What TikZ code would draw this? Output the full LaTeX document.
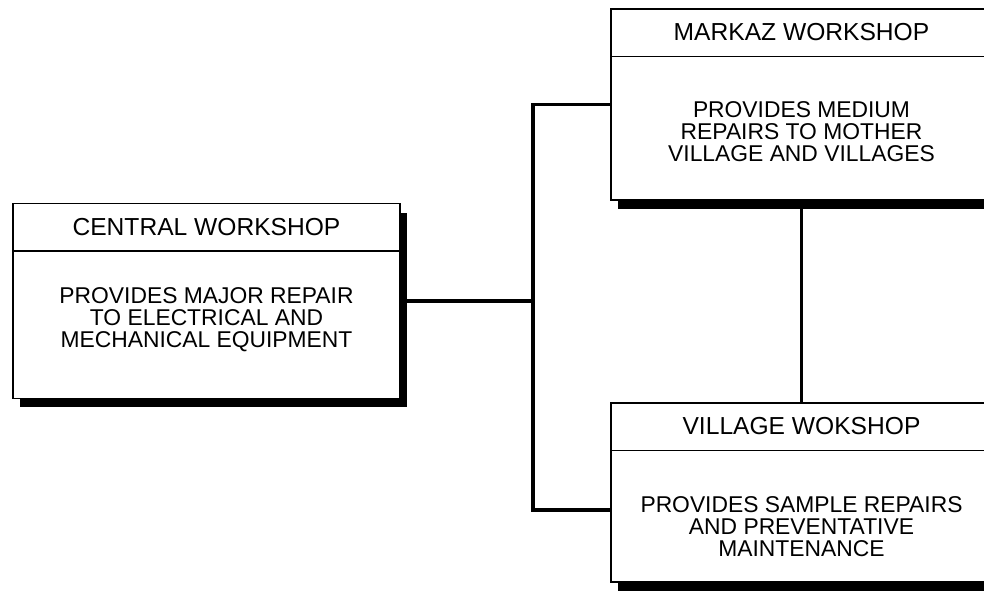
\documentclass[tikz,border=0pt]{standalone}
\usepackage{fontspec}
\setmainfont{Liberation Sans}
\usetikzlibrary{shadows}

\begin{document}
\begin{tikzpicture}[
    x=0.02cm, y=-0.02cm,
    wsbox/.style={draw, line width=0.8pt, fill=white,
        drop shadow={shadow xshift=0.14cm, shadow yshift=-0.18cm, opacity=1, fill=black}},
    headtext/.style={font=\fontsize{14}{16}\selectfont},
    bodytext/.style={font=\fontsize{13}{12.6}\selectfont, align=center},
    link/.style={line width=2.2pt},
]

\clip (0,0) rectangle (984,604);

% Workshops
\node[wsbox, minimum width=7.74cm, minimum height=3.9cm] (central) at (206.5,301) {};
\node[wsbox, minimum width=7.62cm, minimum height=3.82cm] (markaz) at (801.5,104.5) {};
\node[wsbox, minimum width=7.62cm, minimum height=3.58cm] (village) at (801.5,492.5) {};

% Header rules
\foreach \b in {central, markaz, village} {
    \draw[line width=0.8pt] ([yshift=-0.96cm]\b.north west) -- ([yshift=-0.96cm]\b.north east);
}

% Titles
\node[headtext] (centralhead) at ([yshift=-0.48cm]central.north) {CENTRAL WORKSHOP};
\node[headtext] (markazhead) at ([yshift=-0.48cm]markaz.north) {MARKAZ WORKSHOP};
\node[headtext] (villagehead) at ([yshift=-0.48cm]village.north) {VILLAGE WOKSHOP};

% Descriptions
\node[bodytext] (centraltext) at ([yshift=-0.38cm]central.center)
    {PROVIDES MAJOR REPAIR\\TO ELECTRICAL AND\\MECHANICAL EQUIPMENT};
\node[bodytext] (markaztext) at ([yshift=-0.55cm]markaz.center)
    {PROVIDES MEDIUM\\REPAIRS TO MOTHER\\VILLAGE AND VILLAGES};
\node[bodytext] (villagetext) at ([yshift=-0.69cm]village.center)
    {PROVIDES SAMPLE REPAIRS\\AND PREVENTATIVE\\MAINTENANCE};

% Connectors
\coordinate (bus) at (533,0);
\coordinate (villagein) at (611,510);
\draw[link] (central.east) -- (central.east -| bus);
\draw[link] (markaz.west) -| (central.east -| bus) |- (villagein);
\draw[link] (markaz.south) -- (village.north);

\end{tikzpicture}
\end{document}
